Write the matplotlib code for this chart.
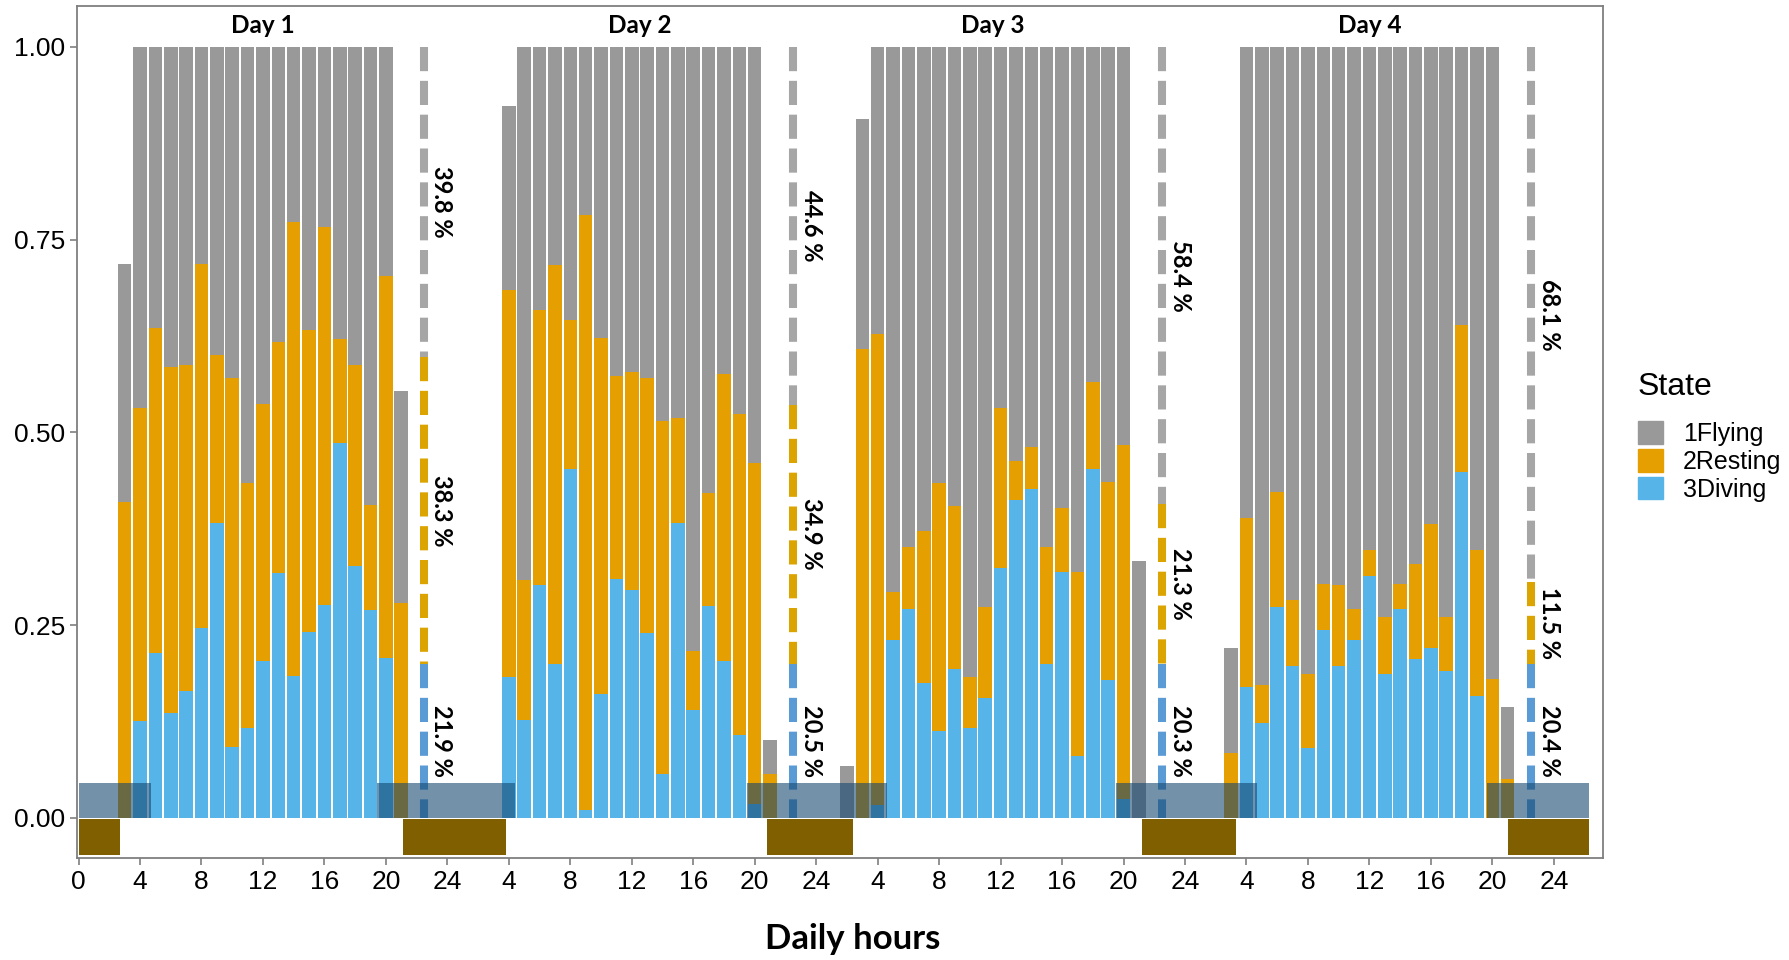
import numpy as np
import matplotlib
matplotlib.use("Agg")
import matplotlib.pyplot as plt
from matplotlib.patches import Rectangle, Patch

# colours
c_fly = "#999999"
c_rest = "#E69F00"
c_dive = "#56B4E9"

# --- data: proportion of each state per hour, one list per day ---
day_offset = [0, 24, 48, 72]
day_names = ["Day 1", "Day 2", "Day 3", "Day 4"]

hours_d1 = list(range(3, 22))
dive_d1 = [0, .126, .214, .136, .165, .246, .383, .092, .116, .204, .318, .184, .241, .276, .486, .327, .269, .208, 0]
rest_d1 = [.410, .405, .422, .449, .423, .473, .218, .478, .318, .333, .299, .589, .392, .491, .135, .261, .137, .495, .279]
fly_d1 = [.308, .469, .364, .415, .412, .281, .399, .430, .566, .463, .383, .227, .367, .233, .379, .412, .594, .297, .275]

hours_d2 = list(range(4, 22))
dive_d2 = [.183, .127, .302, .200, .453, .010, .161, .310, .295, .240, .057, .383, .140, .275, .204, .107, .018, 0]
rest_d2 = [.502, .181, .357, .517, .193, .772, .462, .263, .283, .330, .458, .136, .076, .147, .372, .417, .442, .057]
fly_d2 = [.238, .692, .341, .283, .354, .218, .377, .427, .422, .430, .485, .481, .784, .578, .424, .476, .540, .044]

hours_d3 = list(range(2, 22))
dive_d3 = [0, 0, .017, .231, .271, .175, .113, .193, .116, .155, .324, .412, .427, .200, .319, .080, .453, .179, .024, 0]
rest_d3 = [0, .608, .611, .062, .080, .197, .322, .211, .067, .118, .208, .051, .054, .151, .083, .239, .112, .257, .460, 0]
fly_d3 = [.067, .298, .372, .707, .649, .628, .565, .596, .817, .727, .468, .537, .519, .649, .598, .681, .435, .564, .516, .333]

hours_d4 = list(range(3, 22))
dive_d4 = [0, .170, .123, .273, .197, .091, .244, .197, .231, .314, .186, .271, .206, .220, .190, .449, .158, 0, 0]
rest_d4 = [.084, .219, .050, .150, .086, .095, .059, .105, .040, .033, .075, .032, .123, .161, .071, .190, .189, .180, .050]
fly_d4 = [.137, .611, .827, .577, .717, .814, .697, .698, .729, .653, .739, .697, .671, .619, .739, .361, .653, .820, .094]

# daily summary (dashed bars) and labels
summary_x = [22.45, 46.5, 70.5, 94.5]
dive_top = [0.2, 0.2, 0.2, 0.2]
rest_top = [0.598, 0.536, 0.407, 0.306]
pct_fly = ["39.8 %", "44.6 %", "58.4 %", "68.1 %"]
pct_rest = ["38.3 %", "34.9 %", "21.3 %", "11.5 %"]
pct_dive = ["21.9 %", "20.5 %", "20.3 %", "20.4 %"]

# night (below zero) and twilight (above zero) periods, continuous hours
night_start = [0, 21.1, 44.8, 69.2, 93.0]
night_end = [2.67, 27.8, 50.4, 75.3, 98.3]
twil_start = [0, 19.45, 43.5, 67.5, 91.65]
twil_end = [4.7, 28.4, 52.6, 76.7, 98.3]

xtick_pos = list(range(0, 97, 4))
xtick_lab = ["0", "4", "8", "12", "16", "20", "24",
             "4", "8", "12", "16", "20", "24",
             "4", "8", "12", "16", "20", "24",
             "4", "8", "12", "16", "20", "24"]

hours = [hours_d1, hours_d2, hours_d3, hours_d4]
dive = [dive_d1, dive_d2, dive_d3, dive_d4]
rest = [rest_d1, rest_d2, rest_d3, rest_d4]
fly = [fly_d1, fly_d2, fly_d3, fly_d4]

plt.rcParams["font.family"] = ["Liberation Sans", "DejaVu Sans"]
bold_font = ["Lato", "DejaVu Sans"]

fig = plt.figure(figsize=(17.89, 9.6), dpi=100)
ax = fig.add_axes([77 / 1789, 102 / 960, (1603 - 77) / 1789, (858 - 6) / 960])

for i in range(4):
    x = np.array(hours[i]) + day_offset[i]
    d = np.array(dive[i])
    r = np.array(rest[i])
    f = np.array(fly[i])
    ax.bar(x, d, width=0.88, color=c_dive, zorder=1)
    ax.bar(x, r, bottom=d, width=0.88, color=c_rest, zorder=1)
    ax.bar(x, f, bottom=d + r, width=0.88, color=c_fly, zorder=1)

    # day title above the bars
    ax.text(np.mean([x.min(), x.max()]), 1.028, day_names[i], ha="center", va="center",
            fontsize=17.5, fontweight="bold", family=bold_font, zorder=5)

    # dashed summary bar
    sx = summary_x[i]
    dash = dict(lw=5.8, dashes=(3.0, 1.2), solid_capstyle="butt", zorder=2)
    ax.plot([sx, sx], [1.0, rest_top[i]], color="#a6a6a6", **dash)
    ax.plot([sx, sx], [rest_top[i], dive_top[i]], color="#dba400", **dash)
    ax.plot([sx, sx], [dive_top[i], 0], color="#5b9bd5", **dash)

    tx = sx + 1.2
    txt = dict(rotation=270, ha="center", va="center", fontsize=17,
               fontweight="bold", family=bold_font, zorder=5)
    ax.text(tx, (1.0 + rest_top[i]) / 2, pct_fly[i], **txt)
    ax.text(tx, (rest_top[i] + dive_top[i]) / 2, pct_rest[i], **txt)
    ax.text(tx, dive_top[i] / 2, pct_dive[i], **txt)

for s, e in zip(night_start, night_end):
    ax.add_patch(Rectangle((s, -0.048), e - s, 0.046, color="#7f5f00", lw=0, zorder=3))
for s, e in zip(twil_start, twil_end):
    ax.add_patch(Rectangle((s, 0), e - s, 0.045, color="#164871", alpha=0.6, lw=0, zorder=3))

ax.set_xlim(-0.1, 99.2)
ax.set_ylim(-0.052, 1.053)
ax.set_xticks(xtick_pos)
ax.set_xticklabels(xtick_lab)
ax.set_yticks([0, 0.25, 0.5, 0.75, 1.0])
ax.set_yticklabels(["0.00", "0.25", "0.50", "0.75", "1.00"])
ax.tick_params(labelsize=19, labelcolor="black", length=5, width=1.2, color="#7f7f7f")
for sp in ax.spines.values():
    sp.set_color("#7f7f7f")
    sp.set_linewidth(1.3)

fig.text(853 / 1789, 1 - 939 / 960, "Daily hours", ha="center", va="center",
         fontsize=25, fontweight="bold", family=bold_font)

handles = [Patch(color=c_fly), Patch(color=c_rest), Patch(color=c_dive)]
leg = fig.legend(handles, ["1Flying", "2Resting", "3Diving"], title="State",
                 loc="upper left", bbox_to_anchor=(1618 / 1789, 1 - 352 / 960),
                 frameon=False, fontsize=18, title_fontsize=23, alignment="left",
                 handlelength=1.0, handleheight=1.0, labelspacing=0.12,
                 handletextpad=0.8, borderpad=0.3)
leg.get_title().set_position((0, 0))
leg._legend_box.sep = 14

fig.savefig("out.png", dpi=100)
